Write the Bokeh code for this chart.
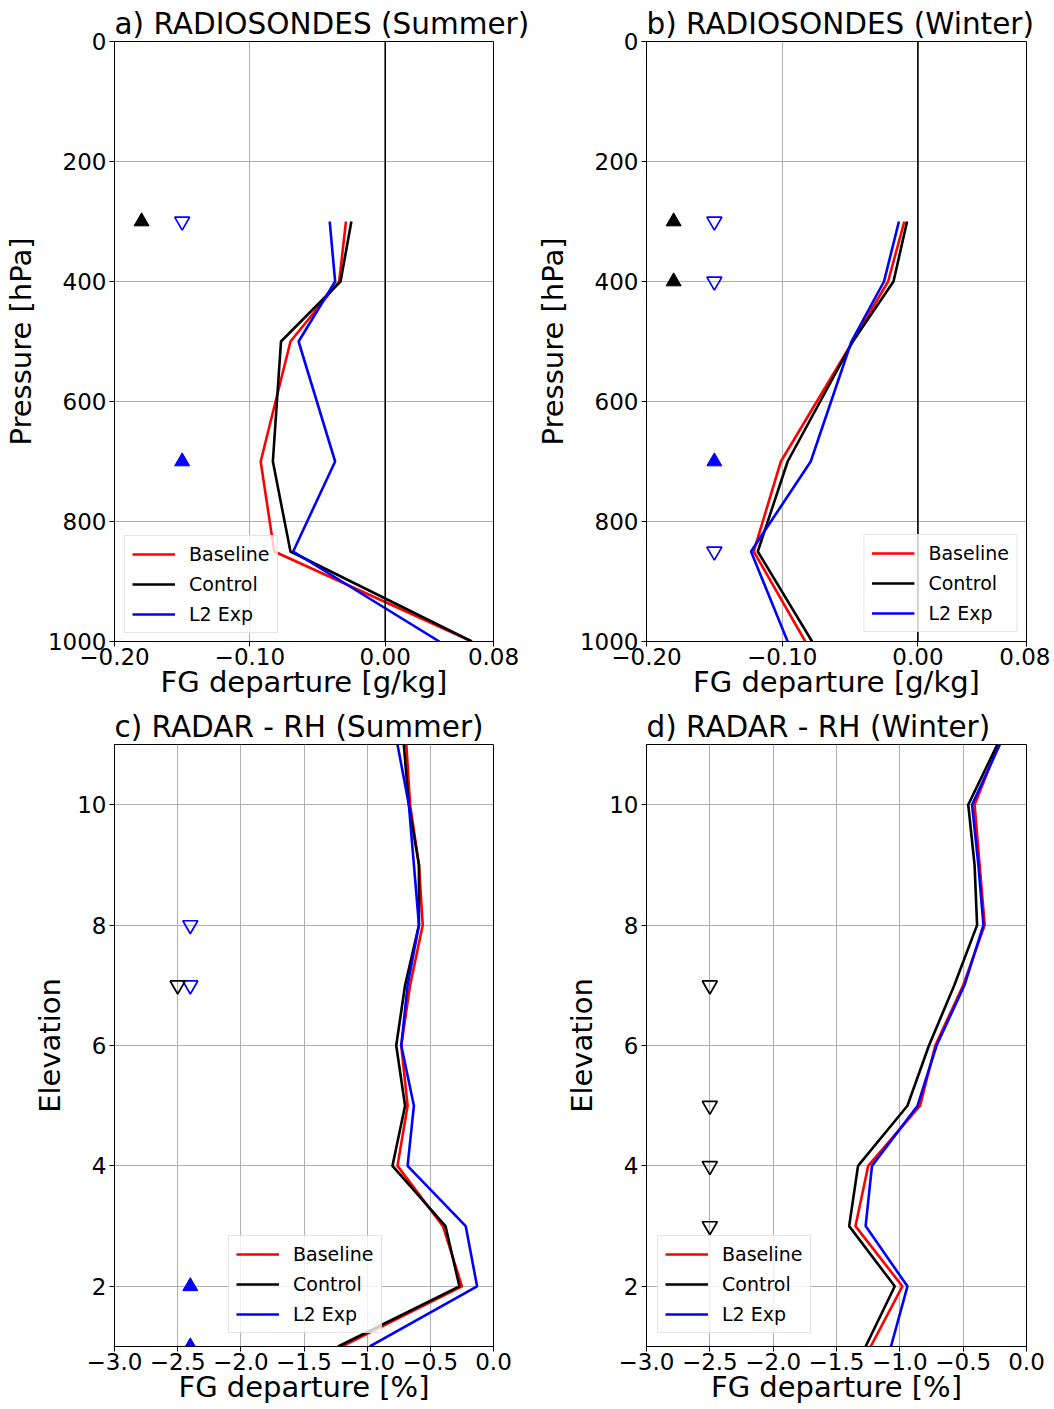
from bokeh.plotting import figure
from bokeh.models import Range1d, FixedTicker, Span, Legend, LegendItem
from bokeh.layouts import gridplot
from bokeh.embed import file_html
from bokeh.resources import INLINE

FONT = "DejaVu Sans"
RED, BLACK, BLUE = "#ff0000", "#000000", "#0000ff"

# ---------------- data ----------------
# Radiosondes: pressure levels [hPa]
p_levels = [300, 400, 500, 700, 850, 1000]
a_base = [-0.029, -0.034, -0.070, -0.092, -0.082, 0.064]
a_ctrl = [-0.025, -0.033, -0.077, -0.083, -0.070, 0.064]
a_l2 = [-0.041, -0.037, -0.064, -0.037, -0.068, 0.040]

b_base = [-0.010, -0.022, -0.048, -0.101, -0.121, -0.083]
b_ctrl = [-0.008, -0.018, -0.048, -0.096, -0.118, -0.078]
b_l2 = [-0.014, -0.025, -0.049, -0.079, -0.123, -0.096]

# Radar RH: elevations
elev = [1, 2, 3, 4, 5, 6, 7, 8, 9, 10, 11]
c_base = [-1.20, -0.25, -0.40, -0.76, -0.68, -0.73, -0.66, -0.56, -0.59, -0.66, -0.69]
c_ctrl = [-1.23, -0.27, -0.38, -0.80, -0.70, -0.77, -0.70, -0.59, -0.59, -0.67, -0.71]
c_l2 = [-0.98, -0.13, -0.22, -0.68, -0.63, -0.73, -0.68, -0.59, -0.63, -0.67, -0.76]

d_base = [-1.23, -0.98, -1.35, -1.25, -0.84, -0.72, -0.50, -0.33, -0.37, -0.41, -0.22]
d_ctrl = [-1.27, -1.04, -1.40, -1.33, -0.94, -0.77, -0.57, -0.39, -0.41, -0.46, -0.23]
d_l2 = [-1.07, -0.94, -1.27, -1.22, -0.86, -0.71, -0.49, -0.34, -0.38, -0.43, -0.21]

# significance markers
a_ctrl_up_x, a_ctrl_up_y = [-0.18], [300]
a_l2_down_x, a_l2_down_y = [-0.15], [300]
a_l2_up_x, a_l2_up_y = [-0.15], [700]

b_ctrl_up_x, b_ctrl_up_y = [-0.18, -0.18], [300, 400]
b_l2_down_x, b_l2_down_y = [-0.15, -0.15, -0.15], [300, 400, 850]
b_l2_up_x, b_l2_up_y = [-0.15], [700]

c_l2_down_x, c_l2_down_y = [-2.4, -2.4], [8, 7]
c_ctrl_down_x, c_ctrl_down_y = [-2.5], [7]
c_l2_up_x, c_l2_up_y = [-2.4, -2.4], [2, 1]

d_ctrl_down_x, d_ctrl_down_y = [-2.5, -2.5, -2.5, -2.5], [7, 5, 4, 3]

# ticks
q_xticks = [-0.20, -0.10, 0.00, 0.08]
q_xlabels = ["\u22120.20", "\u22120.10", "0.00", "0.08"]
p_yticks = [0, 200, 400, 600, 800, 1000]
rh_xticks = [-3.0, -2.5, -2.0, -1.5, -1.0, -0.5, 0.0]
rh_xlabels = ["\u22123.0", "\u22122.5", "\u22122.0", "\u22121.5", "\u22121.0", "\u22120.5", "0.0"]
rh_yticks = [2, 4, 6, 8, 10]

series_names = ["Baseline", "Control", "L2 Exp"]


def make_panel(title, xr, yr, xticks, xlabels, yticks, xlabel, ylabel, w, h, borders):
    p = figure(width=w, height=h, x_range=Range1d(*xr), y_range=Range1d(*yr),
               output_backend="svg", toolbar_location=None,
               min_border_left=borders[0], min_border_right=borders[1],
               min_border_top=borders[2], min_border_bottom=borders[3])
    p.title.text = title
    p.title.align = "left"
    p.title.text_font = FONT
    p.title.text_font_size = "29.5px"
    p.title.text_font_style = "normal"
    p.title.text_color = "black"
    p.title.standoff = 1
    p.xaxis.ticker = FixedTicker(ticks=xticks)
    p.xaxis.major_label_overrides = dict(zip(xticks, xlabels))
    p.yaxis.ticker = FixedTicker(ticks=yticks)
    p.xaxis.axis_label = xlabel
    p.yaxis.axis_label = ylabel
    for ax in p.axis:
        ax.major_label_text_font = FONT
        ax.major_label_text_font_size = "23px"
        ax.major_label_text_color = "black"
        ax.axis_label_text_font = FONT
        ax.axis_label_text_font_size = "29px"
        ax.axis_label_text_font_style = "normal"
        ax.axis_label_text_color = "black"
        ax.major_tick_out = 5
        ax.major_tick_in = 0
        ax.minor_tick_out = 0
        ax.minor_tick_in = 0
        ax.axis_line_color = "black"
        ax.major_tick_line_color = "black"
    p.xaxis.major_label_standoff = 1
    p.xaxis.axis_label_standoff = -3
    p.yaxis.major_label_standoff = 3
    p.yaxis.axis_label_standoff = 7
    for g in (p.xgrid, p.ygrid):
        g.grid_line_color = "#b0b0b0"
        g.grid_line_width = 1
    p.outline_line_color = "black"
    p.outline_line_width = 1
    p.background_fill_color = "white"
    p.border_fill_color = "white"
    return p


def add_lines(p, ys, base, ctrl, l2, loc, margin=10):
    r1 = p.line(base, ys, line_color=RED, line_width=2.6)
    r2 = p.line(ctrl, ys, line_color=BLACK, line_width=2.6)
    r3 = p.line(l2, ys, line_color=BLUE, line_width=2.6)
    leg = Legend(items=[LegendItem(label=series_names[0], renderers=[r1]),
                        LegendItem(label=series_names[1], renderers=[r2]),
                        LegendItem(label=series_names[2], renderers=[r3])],
                 location=loc, margin=margin)
    leg.label_text_font = FONT
    leg.label_text_font_size = "19px"
    leg.label_text_color = "black"
    leg.glyph_width = 43
    leg.glyph_height = 20
    leg.label_height = 20
    leg.label_standoff = 14
    leg.spacing = 8
    leg.padding = 7
    leg.border_line_color = "#cccccc"
    leg.border_line_width = 1
    leg.background_fill_color = "white"
    leg.background_fill_alpha = 0.8
    p.add_layout(leg)


def up(p, xs, ys, color):
    p.scatter(xs, ys, marker="triangle", size=15, fill_color=color, line_color=color)


def down_open(p, xs, ys, color):
    p.scatter(xs, ys, marker="inverted_triangle", size=15, fill_color=None,
              line_color=color, line_width=1.7)


W1, W2 = 530, 520
H1, H2 = 706, 702

pa = make_panel("a) RADIOSONDES (Summer)", (-0.20, 0.08), (1000, 0), q_xticks, q_xlabels,
                p_yticks, "FG departure [g/kg]", "Pressure [hPa]", W1, H1, (114, 37, 41, 65))
pa.add_layout(Span(location=0, dimension="height", line_color="black", line_width=1.6))
add_lines(pa, p_levels, a_base, a_ctrl, a_l2, (10, 8))
up(pa, a_ctrl_up_x, a_ctrl_up_y, BLACK)
down_open(pa, a_l2_down_x, a_l2_down_y, BLUE)
up(pa, a_l2_up_x, a_l2_up_y, BLUE)

pb = make_panel("b) RADIOSONDES (Winter)", (-0.20, 0.08), (1000, 0), q_xticks, q_xlabels,
                p_yticks, "FG departure [g/kg]", "Pressure [hPa]", W2, H1, (116, 24, 41, 65))
pb.add_layout(Span(location=0, dimension="height", line_color="black", line_width=1.6))
add_lines(pb, p_levels, b_base, b_ctrl, b_l2, "bottom_right", margin=9)
up(pb, b_ctrl_up_x, b_ctrl_up_y, BLACK)
down_open(pb, b_l2_down_x, b_l2_down_y, BLUE)
up(pb, b_l2_up_x, b_l2_up_y, BLUE)

pc = make_panel("c) RADAR - RH (Summer)", (-3.0, 0.0), (1, 11), rh_xticks, rh_xlabels,
                rh_yticks, "FG departure [%]", "Elevation", W1, H2, (114, 37, 38, 62))
add_lines(pc, elev, c_base, c_ctrl, c_l2, (114, 13))
down_open(pc, c_l2_down_x, c_l2_down_y, BLUE)
down_open(pc, c_ctrl_down_x, c_ctrl_down_y, BLACK)
up(pc, c_l2_up_x, c_l2_up_y, BLUE)

pd = make_panel("d) RADAR - RH (Winter)", (-3.0, 0.0), (1, 11), rh_xticks, rh_xlabels,
                rh_yticks, "FG departure [%]", "Elevation", W2, H2, (116, 24, 38, 62))
add_lines(pd, elev, d_base, d_ctrl, d_l2, (11, 13))
down_open(pd, d_ctrl_down_x, d_ctrl_down_y, BLACK)

grid = gridplot([[pa, pb], [pc, pd]], toolbar_location=None)

open("out.html", "w").write(file_html(grid, INLINE))
